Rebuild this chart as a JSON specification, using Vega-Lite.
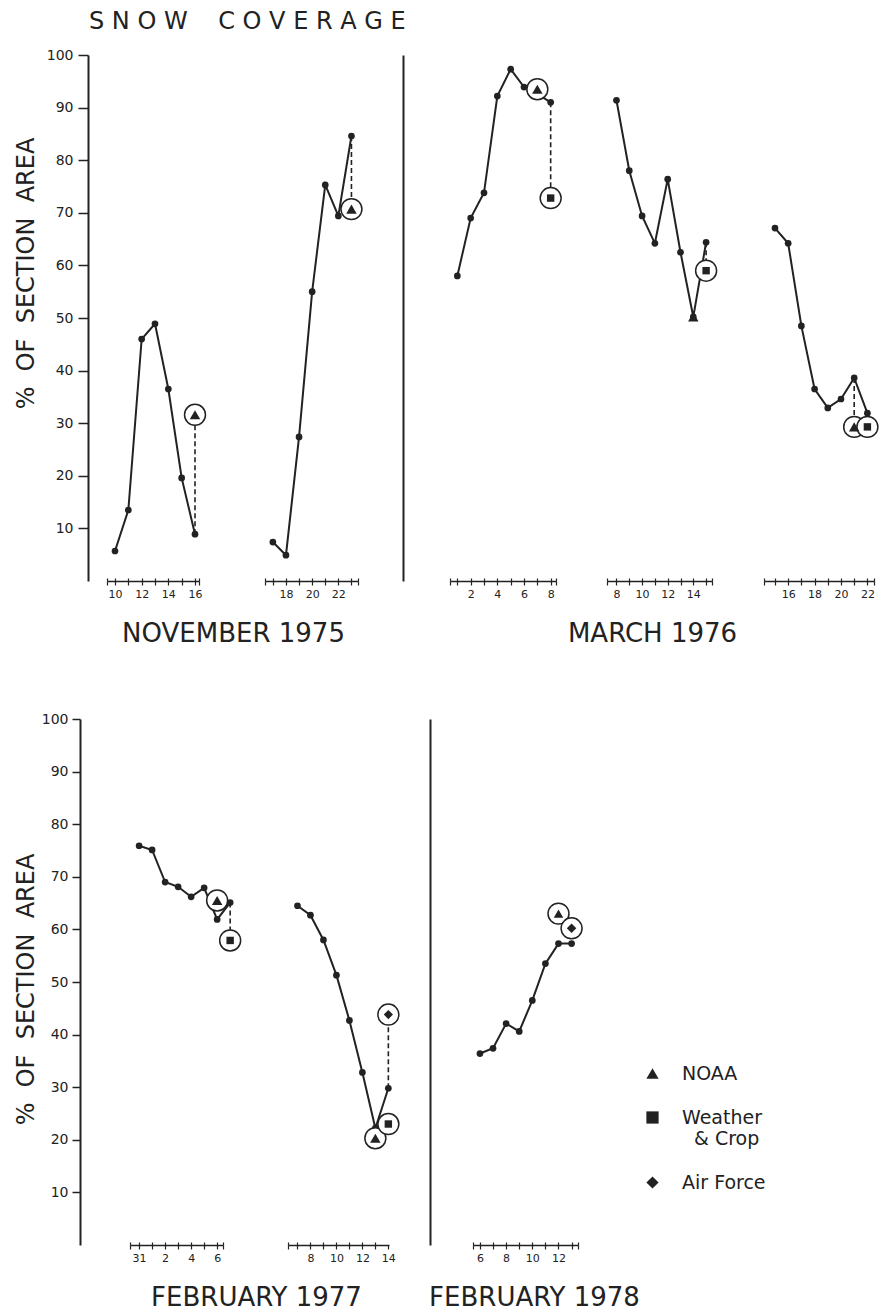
{
  "$schema": "https://vega.github.io/schema/vega-lite/v6.json",
  "background": "white",
  "padding": {"left": 14, "top": 10, "right": 0, "bottom": 0},
  "title": {"text": "S N O W\u00a0\u00a0\u00a0\u00a0C O V E R A G E", "anchor": "start", "fontSize": 24, "font": "DejaVu Sans", "fontWeight": "normal", "color": "#222", "dx": 75, "offset": 14},
  "datasets": {
    "obs": [
      {"panel": "N1", "day": 10, "pct": 5.7}, {"panel": "N1", "day": 11, "pct": 13.5}, {"panel": "N1", "day": 12, "pct": 46}, {"panel": "N1", "day": 13, "pct": 48.9}, {"panel": "N1", "day": 14, "pct": 36.5}, {"panel": "N1", "day": 15, "pct": 19.6}, {"panel": "N1", "day": 16, "pct": 8.9},
      {"panel": "N2", "day": 17, "pct": 7.4}, {"panel": "N2", "day": 18, "pct": 4.9}, {"panel": "N2", "day": 19, "pct": 27.4}, {"panel": "N2", "day": 20, "pct": 55}, {"panel": "N2", "day": 21, "pct": 75.3}, {"panel": "N2", "day": 22, "pct": 69.4}, {"panel": "N2", "day": 23, "pct": 84.6},
      {"panel": "M1", "day": 1, "pct": 58}, {"panel": "M1", "day": 2, "pct": 69}, {"panel": "M1", "day": 3, "pct": 73.8}, {"panel": "M1", "day": 4, "pct": 92.2}, {"panel": "M1", "day": 5, "pct": 97.3}, {"panel": "M1", "day": 6, "pct": 93.9}, {"panel": "M1", "day": 7, "pct": 92.6}, {"panel": "M1", "day": 8, "pct": 91},
      {"panel": "M2", "day": 8, "pct": 91.4}, {"panel": "M2", "day": 9, "pct": 78}, {"panel": "M2", "day": 10, "pct": 69.4}, {"panel": "M2", "day": 11, "pct": 64.2}, {"panel": "M2", "day": 12, "pct": 76.4}, {"panel": "M2", "day": 13, "pct": 62.5}, {"panel": "M2", "day": 14, "pct": 50.2}, {"panel": "M2", "day": 15, "pct": 64.4},
      {"panel": "M3", "day": 15, "pct": 67.1}, {"panel": "M3", "day": 16, "pct": 64.2}, {"panel": "M3", "day": 17, "pct": 48.5}, {"panel": "M3", "day": 18, "pct": 36.5}, {"panel": "M3", "day": 19, "pct": 32.9}, {"panel": "M3", "day": 20, "pct": 34.6}, {"panel": "M3", "day": 21, "pct": 38.6}, {"panel": "M3", "day": 22, "pct": 31.9},
      {"panel": "F1", "day": 0, "pct": 75.9}, {"panel": "F1", "day": 1, "pct": 75.1}, {"panel": "F1", "day": 2, "pct": 69}, {"panel": "F1", "day": 3, "pct": 68.1}, {"panel": "F1", "day": 4, "pct": 66.2}, {"panel": "F1", "day": 5, "pct": 67.9}, {"panel": "F1", "day": 6, "pct": 61.9}, {"panel": "F1", "day": 7, "pct": 65.1},
      {"panel": "F2", "day": 7, "pct": 64.5}, {"panel": "F2", "day": 8, "pct": 62.7}, {"panel": "F2", "day": 9, "pct": 58}, {"panel": "F2", "day": 10, "pct": 51.3}, {"panel": "F2", "day": 11, "pct": 42.7}, {"panel": "F2", "day": 12, "pct": 32.8}, {"panel": "F2", "day": 13, "pct": 22.2}, {"panel": "F2", "day": 14, "pct": 29.8},
      {"panel": "F3", "day": 6, "pct": 36.4}, {"panel": "F3", "day": 7, "pct": 37.4}, {"panel": "F3", "day": 8, "pct": 42.1}, {"panel": "F3", "day": 9, "pct": 40.6}, {"panel": "F3", "day": 10, "pct": 46.5}, {"panel": "F3", "day": 11, "pct": 53.5}, {"panel": "F3", "day": 12, "pct": 57.3}, {"panel": "F3", "day": 13, "pct": 57.3}
    ],
    "src": [
      {"panel": "N1", "day": 16, "source": "NOAA", "pct": 31.6},
      {"panel": "N2", "day": 23, "source": "NOAA", "pct": 70.7},
      {"panel": "M1", "day": 7, "source": "NOAA", "pct": 93.5},
      {"panel": "M1", "day": 8, "source": "Weather & Crop", "pct": 72.8},
      {"panel": "M2", "day": 14, "source": "NOAA", "pct": 50.2, "coincident": true},
      {"panel": "M2", "day": 15, "source": "Weather & Crop", "pct": 59},
      {"panel": "M3", "day": 21, "source": "NOAA", "pct": 29.3},
      {"panel": "M3", "day": 22, "source": "Weather & Crop", "pct": 29.3},
      {"panel": "F1", "day": 6, "source": "NOAA", "pct": 65.5},
      {"panel": "F1", "day": 7, "source": "Weather & Crop", "pct": 57.9},
      {"panel": "F2", "day": 13, "source": "NOAA", "pct": 20.3},
      {"panel": "F2", "day": 14, "source": "Weather & Crop", "pct": 23},
      {"panel": "F2", "day": 14, "source": "Air Force", "pct": 43.8},
      {"panel": "F3", "day": 12, "source": "NOAA", "pct": 63},
      {"panel": "F3", "day": 13, "source": "Air Force", "pct": 60.2}
    ],
    "links": [
      {"panel": "N1", "day": 16, "pct": 8.9, "pct2": 31.6},
      {"panel": "N2", "day": 23, "pct": 84.6, "pct2": 70.7},
      {"panel": "M1", "day": 8, "pct": 91, "pct2": 72.8},
      {"panel": "M2", "day": 15, "pct": 64.4, "pct2": 59},
      {"panel": "M3", "day": 21, "pct": 38.6, "pct2": 29.3},
      {"panel": "F1", "day": 7, "pct": 65.1, "pct2": 57.9},
      {"panel": "F2", "day": 14, "pct": 29.8, "pct2": 43.8}
    ]
  },
  "spacing": 66,
  "resolve": {"scale": {"shape": "independent", "size": "independent"}},
  "vconcat": [
    {
      "hconcat": [
        {
          "width": 158, "height": 526,
          "resolve": {"axis": {"x": "independent"}},
          "encoding": {
            "x": {"field": "day", "type": "quantitative", "scale": {"domain": [9.4, 16.3], "range": [0, 92], "nice": false, "zero": false}, "axis": null},
            "y": {"field": "pct", "type": "quantitative", "scale": {"domain": [0, 100], "nice": false, "zero": false},
              "axis": {"values": [10, 20, 30, 40, 50, 60, 70, 80, 90, 100], "offset": 19, "tickSize": 10, "tickWidth": 1.5, "domainWidth": 2, "labelFontSize": 14, "labelPadding": 5, "title": "%\u00a0\u00a0OF\u00a0\u00a0SECTION\u00a0\u00a0AREA", "titleFontSize": 24, "titleX": -62, "titleY": 218, "titleAngle": -90, "titleAlign": "center", "titleBaseline": "middle"}}
          },
          "layer": [
            {"data": {"name": "obs"}, "transform": [{"filter": "datum.panel == 'N1'"}], "mark": {"type": "line", "color": "#222", "strokeWidth": 2},
              "encoding": {"x": {"field": "day", "type": "quantitative", "axis": {"orient": "bottom", "values": [9.4, 10, 11, 12, 13, 14, 15, 16, 16.3], "labelExpr": "datum.value % 2 == 0 ? datum.value : ''", "title": "NOVEMBER 1975", "titleX": 126, "titleY": 52, "titleFontSize": 26, "titleAlign": "center", "titleBaseline": "middle"}}}},
            {"data": {"name": "obs"}, "transform": [{"filter": "datum.panel == 'N1'"}], "mark": {"type": "point", "filled": true, "color": "#222", "size": 45, "opacity": 1},
              "encoding": {"x": {"field": "day", "type": "quantitative", "axis": {"orient": "bottom", "values": [9.4, 10, 11, 12, 13, 14, 15, 16, 16.3], "domain": false, "labels": false, "tickSize": -3, "title": null}}}},
            {"data": {"name": "links"}, "transform": [{"filter": "datum.panel == 'N1'"}], "mark": {"type": "rule", "color": "#222", "strokeWidth": 1.6, "strokeDash": [5, 3]}, "encoding": {"y2": {"field": "pct2"}}},
            {"data": {"name": "src"}, "transform": [{"filter": "datum.panel == 'N1' && !datum.coincident"}], "mark": {"type": "point", "shape": "circle", "filled": true, "fill": "white", "stroke": "#222", "strokeWidth": 1.5, "size": 440, "opacity": 1}},
            {"data": {"name": "src"}, "transform": [{"filter": "datum.panel == 'N1'"}], "mark": {"type": "point", "filled": true, "color": "#222", "opacity": 1},
              "encoding": {"shape": {"field": "source", "type": "nominal", "scale": {"domain": ["NOAA", "Weather & Crop", "Air Force"], "range": ["triangle-up", "square", "diamond"]}, "legend": null},
                "size": {"field": "source", "type": "nominal", "scale": {"type": "ordinal", "domain": ["NOAA", "Weather & Crop", "Air Force"], "range": [110, 55, 85]}, "legend": null}}}
          ]
        },
        {
          "width": 185, "height": 526,
          "resolve": {"axis": {"x": "independent"}},
          "encoding": {
            "x": {"field": "day", "type": "quantitative", "scale": {"domain": [16.4, 23.5], "range": [0, 93], "nice": false, "zero": false}, "axis": null},
            "y": {"field": "pct", "type": "quantitative", "scale": {"domain": [0, 100], "nice": false, "zero": false}, "axis": null}
          },
          "layer": [
            {"data": {"name": "obs"}, "transform": [{"filter": "datum.panel == 'N2'"}], "mark": {"type": "line", "color": "#222", "strokeWidth": 2},
              "encoding": {"x": {"field": "day", "type": "quantitative", "axis": {"orient": "bottom", "values": [16.4, 17, 18, 19, 20, 21, 22, 23, 23.5], "labelExpr": "datum.value % 2 == 0 ? datum.value : ''", "title": null}}}},
            {"data": {"name": "obs"}, "transform": [{"filter": "datum.panel == 'N2'"}], "mark": {"type": "point", "filled": true, "color": "#222", "size": 45, "opacity": 1},
              "encoding": {"x": {"field": "day", "type": "quantitative", "axis": {"orient": "bottom", "values": [16.4, 17, 18, 19, 20, 21, 22, 23, 23.5], "domain": false, "labels": false, "tickSize": -3, "title": null}}}},
            {"data": {"name": "links"}, "transform": [{"filter": "datum.panel == 'N2'"}], "mark": {"type": "rule", "color": "#222", "strokeWidth": 1.6, "strokeDash": [5, 3]}, "encoding": {"y2": {"field": "pct2"}}},
            {"data": {"name": "src"}, "transform": [{"filter": "datum.panel == 'N2' && !datum.coincident"}], "mark": {"type": "point", "shape": "circle", "filled": true, "fill": "white", "stroke": "#222", "strokeWidth": 1.5, "size": 440, "opacity": 1}},
            {"data": {"name": "src"}, "transform": [{"filter": "datum.panel == 'N2'"}], "mark": {"type": "point", "filled": true, "color": "#222", "opacity": 1},
              "encoding": {"shape": {"field": "source", "type": "nominal", "scale": {"domain": ["NOAA", "Weather & Crop", "Air Force"], "range": ["triangle-up", "square", "diamond"]}, "legend": null},
                "size": {"field": "source", "type": "nominal", "scale": {"type": "ordinal", "domain": ["NOAA", "Weather & Crop", "Air Force"], "range": [110, 55, 85]}, "legend": null}}}
          ]
        },
        {
          "width": 157, "height": 526,
          "resolve": {"axis": {"x": "independent"}},
          "encoding": {
            "x": {"field": "day", "type": "quantitative", "scale": {"domain": [0.45, 8.4], "range": [0, 106], "nice": false, "zero": false}, "axis": null},
            "y": {"field": "pct", "type": "quantitative", "scale": {"domain": [0, 100], "nice": false, "zero": false},
              "axis": {"offset": 47, "labels": false, "ticks": false, "title": null, "domainWidth": 2}}
          },
          "layer": [
            {"data": {"name": "obs"}, "transform": [{"filter": "datum.panel == 'M1'"}], "mark": {"type": "line", "color": "#222", "strokeWidth": 2},
              "encoding": {"x": {"field": "day", "type": "quantitative", "axis": {"orient": "bottom", "values": [0.45, 1, 2, 3, 4, 5, 6, 7, 8, 8.4], "labelExpr": "datum.value % 2 == 0 ? datum.value : ''", "title": "MARCH 1976", "titleX": 202, "titleY": 52, "titleFontSize": 26, "titleAlign": "center", "titleBaseline": "middle"}}}},
            {"data": {"name": "obs"}, "transform": [{"filter": "datum.panel == 'M1'"}], "mark": {"type": "point", "filled": true, "color": "#222", "size": 45, "opacity": 1},
              "encoding": {"x": {"field": "day", "type": "quantitative", "axis": {"orient": "bottom", "values": [0.45, 1, 2, 3, 4, 5, 6, 7, 8, 8.4], "domain": false, "labels": false, "tickSize": -3, "title": null}}}},
            {"data": {"name": "links"}, "transform": [{"filter": "datum.panel == 'M1'"}], "mark": {"type": "rule", "color": "#222", "strokeWidth": 1.6, "strokeDash": [5, 3]}, "encoding": {"y2": {"field": "pct2"}}},
            {"data": {"name": "src"}, "transform": [{"filter": "datum.panel == 'M1' && !datum.coincident"}], "mark": {"type": "point", "shape": "circle", "filled": true, "fill": "white", "stroke": "#222", "strokeWidth": 1.5, "size": 440, "opacity": 1}},
            {"data": {"name": "src"}, "transform": [{"filter": "datum.panel == 'M1'"}], "mark": {"type": "point", "filled": true, "color": "#222", "opacity": 1},
              "encoding": {"shape": {"field": "source", "type": "nominal", "scale": {"domain": ["NOAA", "Weather & Crop", "Air Force"], "range": ["triangle-up", "square", "diamond"]}, "legend": null},
                "size": {"field": "source", "type": "nominal", "scale": {"type": "ordinal", "domain": ["NOAA", "Weather & Crop", "Air Force"], "range": [110, 55, 85]}, "legend": null}}}
          ]
        },
        {
          "width": 157, "height": 526,
          "resolve": {"axis": {"x": "independent"}},
          "encoding": {
            "x": {"field": "day", "type": "quantitative", "scale": {"domain": [7.26, 15.46], "range": [0, 105], "nice": false, "zero": false}, "axis": null},
            "y": {"field": "pct", "type": "quantitative", "scale": {"domain": [0, 100], "nice": false, "zero": false}, "axis": null}
          },
          "layer": [
            {"data": {"name": "obs"}, "transform": [{"filter": "datum.panel == 'M2'"}], "mark": {"type": "line", "color": "#222", "strokeWidth": 2},
              "encoding": {"x": {"field": "day", "type": "quantitative", "axis": {"orient": "bottom", "values": [7.26, 8, 9, 10, 11, 12, 13, 14, 15, 15.46], "labelExpr": "datum.value % 2 == 0 ? datum.value : ''", "title": null}}}},
            {"data": {"name": "obs"}, "transform": [{"filter": "datum.panel == 'M2'"}], "mark": {"type": "point", "filled": true, "color": "#222", "size": 45, "opacity": 1},
              "encoding": {"x": {"field": "day", "type": "quantitative", "axis": {"orient": "bottom", "values": [7.26, 8, 9, 10, 11, 12, 13, 14, 15, 15.46], "domain": false, "labels": false, "tickSize": -3, "title": null}}}},
            {"data": {"name": "links"}, "transform": [{"filter": "datum.panel == 'M2'"}], "mark": {"type": "rule", "color": "#222", "strokeWidth": 1.6, "strokeDash": [5, 3]}, "encoding": {"y2": {"field": "pct2"}}},
            {"data": {"name": "src"}, "transform": [{"filter": "datum.panel == 'M2' && !datum.coincident"}], "mark": {"type": "point", "shape": "circle", "filled": true, "fill": "white", "stroke": "#222", "strokeWidth": 1.5, "size": 440, "opacity": 1}},
            {"data": {"name": "src"}, "transform": [{"filter": "datum.panel == 'M2'"}], "mark": {"type": "point", "filled": true, "color": "#222", "opacity": 1},
              "encoding": {"shape": {"field": "source", "type": "nominal", "scale": {"domain": ["NOAA", "Weather & Crop", "Air Force"], "range": ["triangle-up", "square", "diamond"]}, "legend": null},
                "size": {"field": "source", "type": "nominal", "scale": {"type": "ordinal", "domain": ["NOAA", "Weather & Crop", "Air Force"], "range": [110, 55, 85]}, "legend": null}}}
          ]
        },
        {
          "width": 110, "height": 526,
          "resolve": {"axis": {"x": "independent"}},
          "encoding": {
            "x": {"field": "day", "type": "quantitative", "scale": {"domain": [14.17, 22.5], "range": [0, 110], "nice": false, "zero": false}, "axis": null},
            "y": {"field": "pct", "type": "quantitative", "scale": {"domain": [0, 100], "nice": false, "zero": false}, "axis": null}
          },
          "layer": [
            {"data": {"name": "obs"}, "transform": [{"filter": "datum.panel == 'M3'"}], "mark": {"type": "line", "color": "#222", "strokeWidth": 2},
              "encoding": {"x": {"field": "day", "type": "quantitative", "axis": {"orient": "bottom", "values": [14.17, 15, 16, 17, 18, 19, 20, 21, 22, 22.5], "labelExpr": "datum.value % 2 == 0 ? datum.value : ''", "title": null}}}},
            {"data": {"name": "obs"}, "transform": [{"filter": "datum.panel == 'M3'"}], "mark": {"type": "point", "filled": true, "color": "#222", "size": 45, "opacity": 1},
              "encoding": {"x": {"field": "day", "type": "quantitative", "axis": {"orient": "bottom", "values": [14.17, 15, 16, 17, 18, 19, 20, 21, 22, 22.5], "domain": false, "labels": false, "tickSize": -3, "title": null}}}},
            {"data": {"name": "links"}, "transform": [{"filter": "datum.panel == 'M3'"}], "mark": {"type": "rule", "color": "#222", "strokeWidth": 1.6, "strokeDash": [5, 3]}, "encoding": {"y2": {"field": "pct2"}}},
            {"data": {"name": "src"}, "transform": [{"filter": "datum.panel == 'M3' && !datum.coincident"}], "mark": {"type": "point", "shape": "circle", "filled": true, "fill": "white", "stroke": "#222", "strokeWidth": 1.5, "size": 440, "opacity": 1}},
            {"data": {"name": "src"}, "transform": [{"filter": "datum.panel == 'M3'"}], "mark": {"type": "point", "filled": true, "color": "#222", "opacity": 1},
              "encoding": {"shape": {"field": "source", "type": "nominal", "scale": {"domain": ["NOAA", "Weather & Crop", "Air Force"], "range": ["triangle-up", "square", "diamond"]}, "legend": null},
                "size": {"field": "source", "type": "nominal", "scale": {"type": "ordinal", "domain": ["NOAA", "Weather & Crop", "Air Force"], "range": [110, 55, 85]}, "legend": null}}}
          ]
        }
      ],
      "spacing": 0,
      "bounds": "flush"
    },
    {
      "hconcat": [
        {
          "width": 181, "height": 526,
          "resolve": {"axis": {"x": "independent"}},
          "encoding": {
            "x": {"field": "day", "type": "quantitative", "scale": {"domain": [-0.7, 6.45], "range": [23, 116], "nice": false, "zero": false}, "axis": null},
            "y": {"field": "pct", "type": "quantitative", "scale": {"domain": [0, 100], "nice": false, "zero": false},
              "axis": {"values": [10, 20, 30, 40, 50, 60, 70, 80, 90, 100], "offset": 27, "tickSize": 8, "tickWidth": 1.5, "domainWidth": 2, "labelFontSize": 14, "labelPadding": 4, "title": "%\u00a0\u00a0OF\u00a0\u00a0SECTION\u00a0\u00a0AREA", "titleFontSize": 24, "titleX": -54, "titleY": 270, "titleAngle": -90, "titleAlign": "center", "titleBaseline": "middle"}}
          },
          "layer": [
            {"data": {"name": "obs"}, "transform": [{"filter": "datum.panel == 'F1'"}], "mark": {"type": "line", "color": "#222", "strokeWidth": 2},
              "encoding": {"x": {"field": "day", "type": "quantitative", "axis": {"orient": "bottom", "values": [-0.7, 0, 1, 2, 3, 4, 5, 6, 6.45], "labelExpr": "datum.value == 0 ? '31' : (datum.value > 0 && datum.value % 2 == 0 ? datum.value : '')", "title": "FEBRUARY 1977", "titleX": 149, "titleY": 52, "titleFontSize": 26, "titleAlign": "center", "titleBaseline": "middle"}}}},
            {"data": {"name": "obs"}, "transform": [{"filter": "datum.panel == 'F1'"}], "mark": {"type": "point", "filled": true, "color": "#222", "size": 45, "opacity": 1},
              "encoding": {"x": {"field": "day", "type": "quantitative", "axis": {"orient": "bottom", "values": [-0.7, 0, 1, 2, 3, 4, 5, 6, 6.45], "domain": false, "labels": false, "tickSize": -3, "title": null}}}},
            {"data": {"name": "links"}, "transform": [{"filter": "datum.panel == 'F1'"}], "mark": {"type": "rule", "color": "#222", "strokeWidth": 1.6, "strokeDash": [5, 3]}, "encoding": {"y2": {"field": "pct2"}}},
            {"data": {"name": "src"}, "transform": [{"filter": "datum.panel == 'F1' && !datum.coincident"}], "mark": {"type": "point", "shape": "circle", "filled": true, "fill": "white", "stroke": "#222", "strokeWidth": 1.5, "size": 440, "opacity": 1}},
            {"data": {"name": "src"}, "transform": [{"filter": "datum.panel == 'F1'"}], "mark": {"type": "point", "filled": true, "color": "#222", "opacity": 1},
              "encoding": {"shape": {"field": "source", "type": "nominal", "scale": {"domain": ["NOAA", "Weather & Crop", "Air Force"], "range": ["triangle-up", "square", "diamond"]}, "legend": null},
                "size": {"field": "source", "type": "nominal", "scale": {"type": "ordinal", "domain": ["NOAA", "Weather & Crop", "Air Force"], "range": [110, 55, 85]}, "legend": null}}}
          ]
        },
        {
          "width": 185, "height": 526,
          "resolve": {"axis": {"x": "independent"}},
          "encoding": {
            "x": {"field": "day", "type": "quantitative", "scale": {"domain": [6.27, 14.05], "range": [0, 101], "nice": false, "zero": false}, "axis": null},
            "y": {"field": "pct", "type": "quantitative", "scale": {"domain": [0, 100], "nice": false, "zero": false}, "axis": null}
          },
          "layer": [
            {"data": {"name": "obs"}, "transform": [{"filter": "datum.panel == 'F2'"}], "mark": {"type": "line", "color": "#222", "strokeWidth": 2},
              "encoding": {"x": {"field": "day", "type": "quantitative", "axis": {"orient": "bottom", "values": [6.27, 7, 8, 9, 10, 11, 12, 13, 14], "labelExpr": "datum.value % 2 == 0 ? datum.value : ''", "title": null}}}},
            {"data": {"name": "obs"}, "transform": [{"filter": "datum.panel == 'F2'"}], "mark": {"type": "point", "filled": true, "color": "#222", "size": 45, "opacity": 1},
              "encoding": {"x": {"field": "day", "type": "quantitative", "axis": {"orient": "bottom", "values": [6.27, 7, 8, 9, 10, 11, 12, 13], "domain": false, "labels": false, "tickSize": -3, "title": null}}}},
            {"data": {"name": "links"}, "transform": [{"filter": "datum.panel == 'F2'"}], "mark": {"type": "rule", "color": "#222", "strokeWidth": 1.6, "strokeDash": [5, 3]}, "encoding": {"y2": {"field": "pct2"}}},
            {"data": {"name": "src"}, "transform": [{"filter": "datum.panel == 'F2' && !datum.coincident"}], "mark": {"type": "point", "shape": "circle", "filled": true, "fill": "white", "stroke": "#222", "strokeWidth": 1.5, "size": 440, "opacity": 1}},
            {"data": {"name": "src"}, "transform": [{"filter": "datum.panel == 'F2'"}], "mark": {"type": "point", "filled": true, "color": "#222", "opacity": 1},
              "encoding": {"shape": {"field": "source", "type": "nominal", "scale": {"domain": ["NOAA", "Weather & Crop", "Air Force"], "range": ["triangle-up", "square", "diamond"]}, "legend": null},
                "size": {"field": "source", "type": "nominal", "scale": {"type": "ordinal", "domain": ["NOAA", "Weather & Crop", "Air Force"], "range": [110, 55, 85]}, "legend": null}}}
          ]
        },
        {
          "width": 105, "height": 526,
          "resolve": {"axis": {"x": "independent"}},
          "encoding": {
            "x": {"field": "day", "type": "quantitative", "scale": {"domain": [5.47, 13.49], "range": [0, 105], "nice": false, "zero": false}, "axis": null},
            "y": {"field": "pct", "type": "quantitative", "scale": {"domain": [0, 100], "nice": false, "zero": false},
              "axis": {"offset": 43, "labels": false, "ticks": false, "title": null, "domainWidth": 2}}
          },
          "layer": [
            {"data": {"name": "obs"}, "transform": [{"filter": "datum.panel == 'F3'"}], "mark": {"type": "line", "color": "#222", "strokeWidth": 2},
              "encoding": {"x": {"field": "day", "type": "quantitative", "axis": {"orient": "bottom", "values": [5.47, 6, 7, 8, 9, 10, 11, 12, 13, 13.49], "labelExpr": "datum.value % 2 == 0 ? datum.value : ''", "title": "FEBRUARY 1978", "titleX": 61, "titleY": 52, "titleFontSize": 26, "titleAlign": "center", "titleBaseline": "middle"}}}},
            {"data": {"name": "obs"}, "transform": [{"filter": "datum.panel == 'F3'"}], "mark": {"type": "point", "filled": true, "color": "#222", "size": 45, "opacity": 1},
              "encoding": {"x": {"field": "day", "type": "quantitative", "axis": {"orient": "bottom", "values": [5.47, 6, 7, 8, 9, 10, 11, 12, 13, 13.49], "domain": false, "labels": false, "tickSize": -3, "title": null}}}},
            {"data": {"name": "src"}, "transform": [{"filter": "datum.panel == 'F3' && !datum.coincident"}], "mark": {"type": "point", "shape": "circle", "filled": true, "fill": "white", "stroke": "#222", "strokeWidth": 1.5, "size": 440, "opacity": 1}},
            {"data": {"name": "src"}, "transform": [{"filter": "datum.panel == 'F3'"}], "mark": {"type": "point", "filled": true, "color": "#222", "opacity": 1, "size": 90},
              "encoding": {"shape": {"field": "source", "type": "nominal", "scale": {"domain": ["NOAA", "Weather & Crop", "Air Force"], "range": ["triangle-up", "square", "diamond"]},
                  "legend": {"orient": "none", "legendX": 170, "legendY": 345, "title": null, "symbolSize": 150, "symbolFillColor": "#222", "symbolStrokeColor": "#222", "symbolStrokeWidth": 0, "labelFontSize": 19, "labelFont": "DejaVu Sans", "labelColor": "#222", "labelOffset": 20, "rowPadding": 24, "labelLimit": 300, "labelExpr": "datum.label == 'Weather & Crop' ? ['Weather', '\u200b\u00a0\u00a0& Crop'] : datum.label"}}}}
          ]
        }
      ],
      "spacing": 0,
      "bounds": "flush",
      "resolve": {"scale": {"shape": "independent", "size": "independent"}}
    }
  ],
  "config": {
    "view": {"stroke": null},
    "font": "DejaVu Sans",
    "axis": {"grid": false, "domainColor": "#222", "tickColor": "#222", "labelColor": "#222", "titleColor": "#222", "labelFont": "DejaVu Sans", "titleFont": "DejaVu Sans", "titleFontWeight": "normal"},
    "axisX": {"tickSize": 4, "tickWidth": 1.2, "domainWidth": 1.5, "labelFontSize": 11, "labelPadding": 3, "labelOverlap": false, "labelFlush": false, "labelBound": false, "labelAngle": 0}
  }
}
